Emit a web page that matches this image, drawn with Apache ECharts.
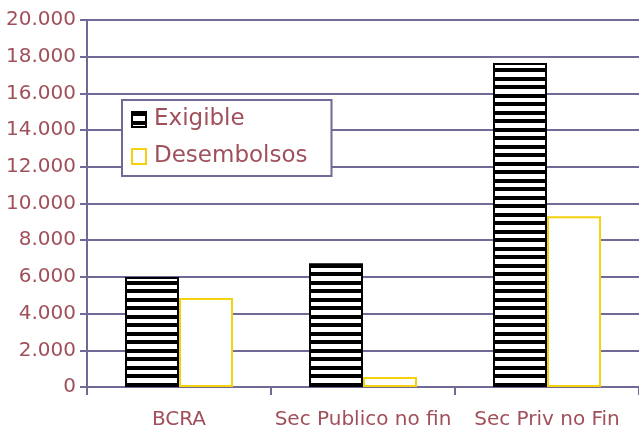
<!DOCTYPE html>
<html>
<head>
<meta charset="utf-8">
<script src="https://cdn.jsdelivr.net/npm/echarts@6/dist/echarts.min.js"></script>
<style>
html,body{margin:0;padding:0;background:#fff;}
#c{width:639px;height:430px;}
</style>
</head>
<body>
<div id="c"></div>
<script>
const categories = ['BCRA', 'Sec Publico no fin', 'Sec Priv no Fin'];
const exigible = [6000, 6750, 17650];
const desembolsos = [4850, 550, 9300];
const seriesNames = ['Exigible', 'Desembolsos'];

const textColor = '#a0505a';
const gridColor = '#6f6a96';

function stripes() {
  const cv = document.createElement('canvas');
  cv.width = 4; cv.height = 17;
  const ctx = cv.getContext('2d');
  ctx.fillStyle = '#ffffff';
  ctx.fillRect(0, 0, 4, 17);
  ctx.fillStyle = '#000000';
  ctx.fillRect(0, 0, 4, 4);
  ctx.fillRect(0, 9, 4, 4);
  return cv;
}

const chart = echarts.init(document.getElementById('c'), null, {renderer: 'canvas'});
chart.setOption({
  animation: false,
  backgroundColor: '#ffffff',
  textStyle: {fontFamily: 'DejaVu Sans'},
  grid: {left: 87, right: -4, top: 20, bottom: 43, containLabel: false},
  legend: {
    orient: 'vertical',
    left: 122, top: 100,
    padding: [8, 24, 8, 9],
    borderColor: gridColor,
    borderWidth: 2,
    backgroundColor: '#ffffff',
    icon: 'rect',
    itemWidth: 14, itemHeight: 15,
    itemGap: 14,
    textStyle: {color: textColor, fontSize: 23, lineHeight: 23, fontFamily: 'DejaVu Sans', padding: [0, 0, 0, 3]},
    data: seriesNames
  },
  xAxis: {
    type: 'category',
    data: categories,
    axisLine: {lineStyle: {color: gridColor, width: 2}},
    axisTick: {show: true, interval: 0, length: 8, lineStyle: {color: gridColor, width: 2}},
    axisLabel: {color: textColor, fontSize: 20, margin: 23, interval: 0, fontFamily: 'DejaVu Sans'}
  },
  yAxis: {
    type: 'value',
    min: 0, max: 20000, interval: 2000,
    axisLine: {show: true, lineStyle: {color: gridColor, width: 2}},
    axisTick: {show: true, length: 7, lineStyle: {color: gridColor, width: 2}},
    splitLine: {lineStyle: {color: gridColor, width: 2}},
    axisLabel: {
      color: textColor, fontSize: 20, margin: 11, fontFamily: 'DejaVu Sans',
      formatter: v => v === 0 ? '0' : String(v).replace(/\B(?=(\d{3})+(?!\d))/g, '.')
    }
  },
  series: [
    {
      name: seriesNames[0], type: 'bar', data: exigible,
      barWidth: 54, barGap: '0%',
      itemStyle: {color: {image: stripes(), repeat: 'repeat'}, borderColor: '#000000', borderWidth: 2}
    },
    {
      name: seriesNames[1], type: 'bar', data: desembolsos,
      barWidth: 54, barGap: '0%',
      itemStyle: {color: '#ffffff', borderColor: '#f5d20f', borderWidth: 2}
    }
  ]
});
</script>
</body>
</html>
